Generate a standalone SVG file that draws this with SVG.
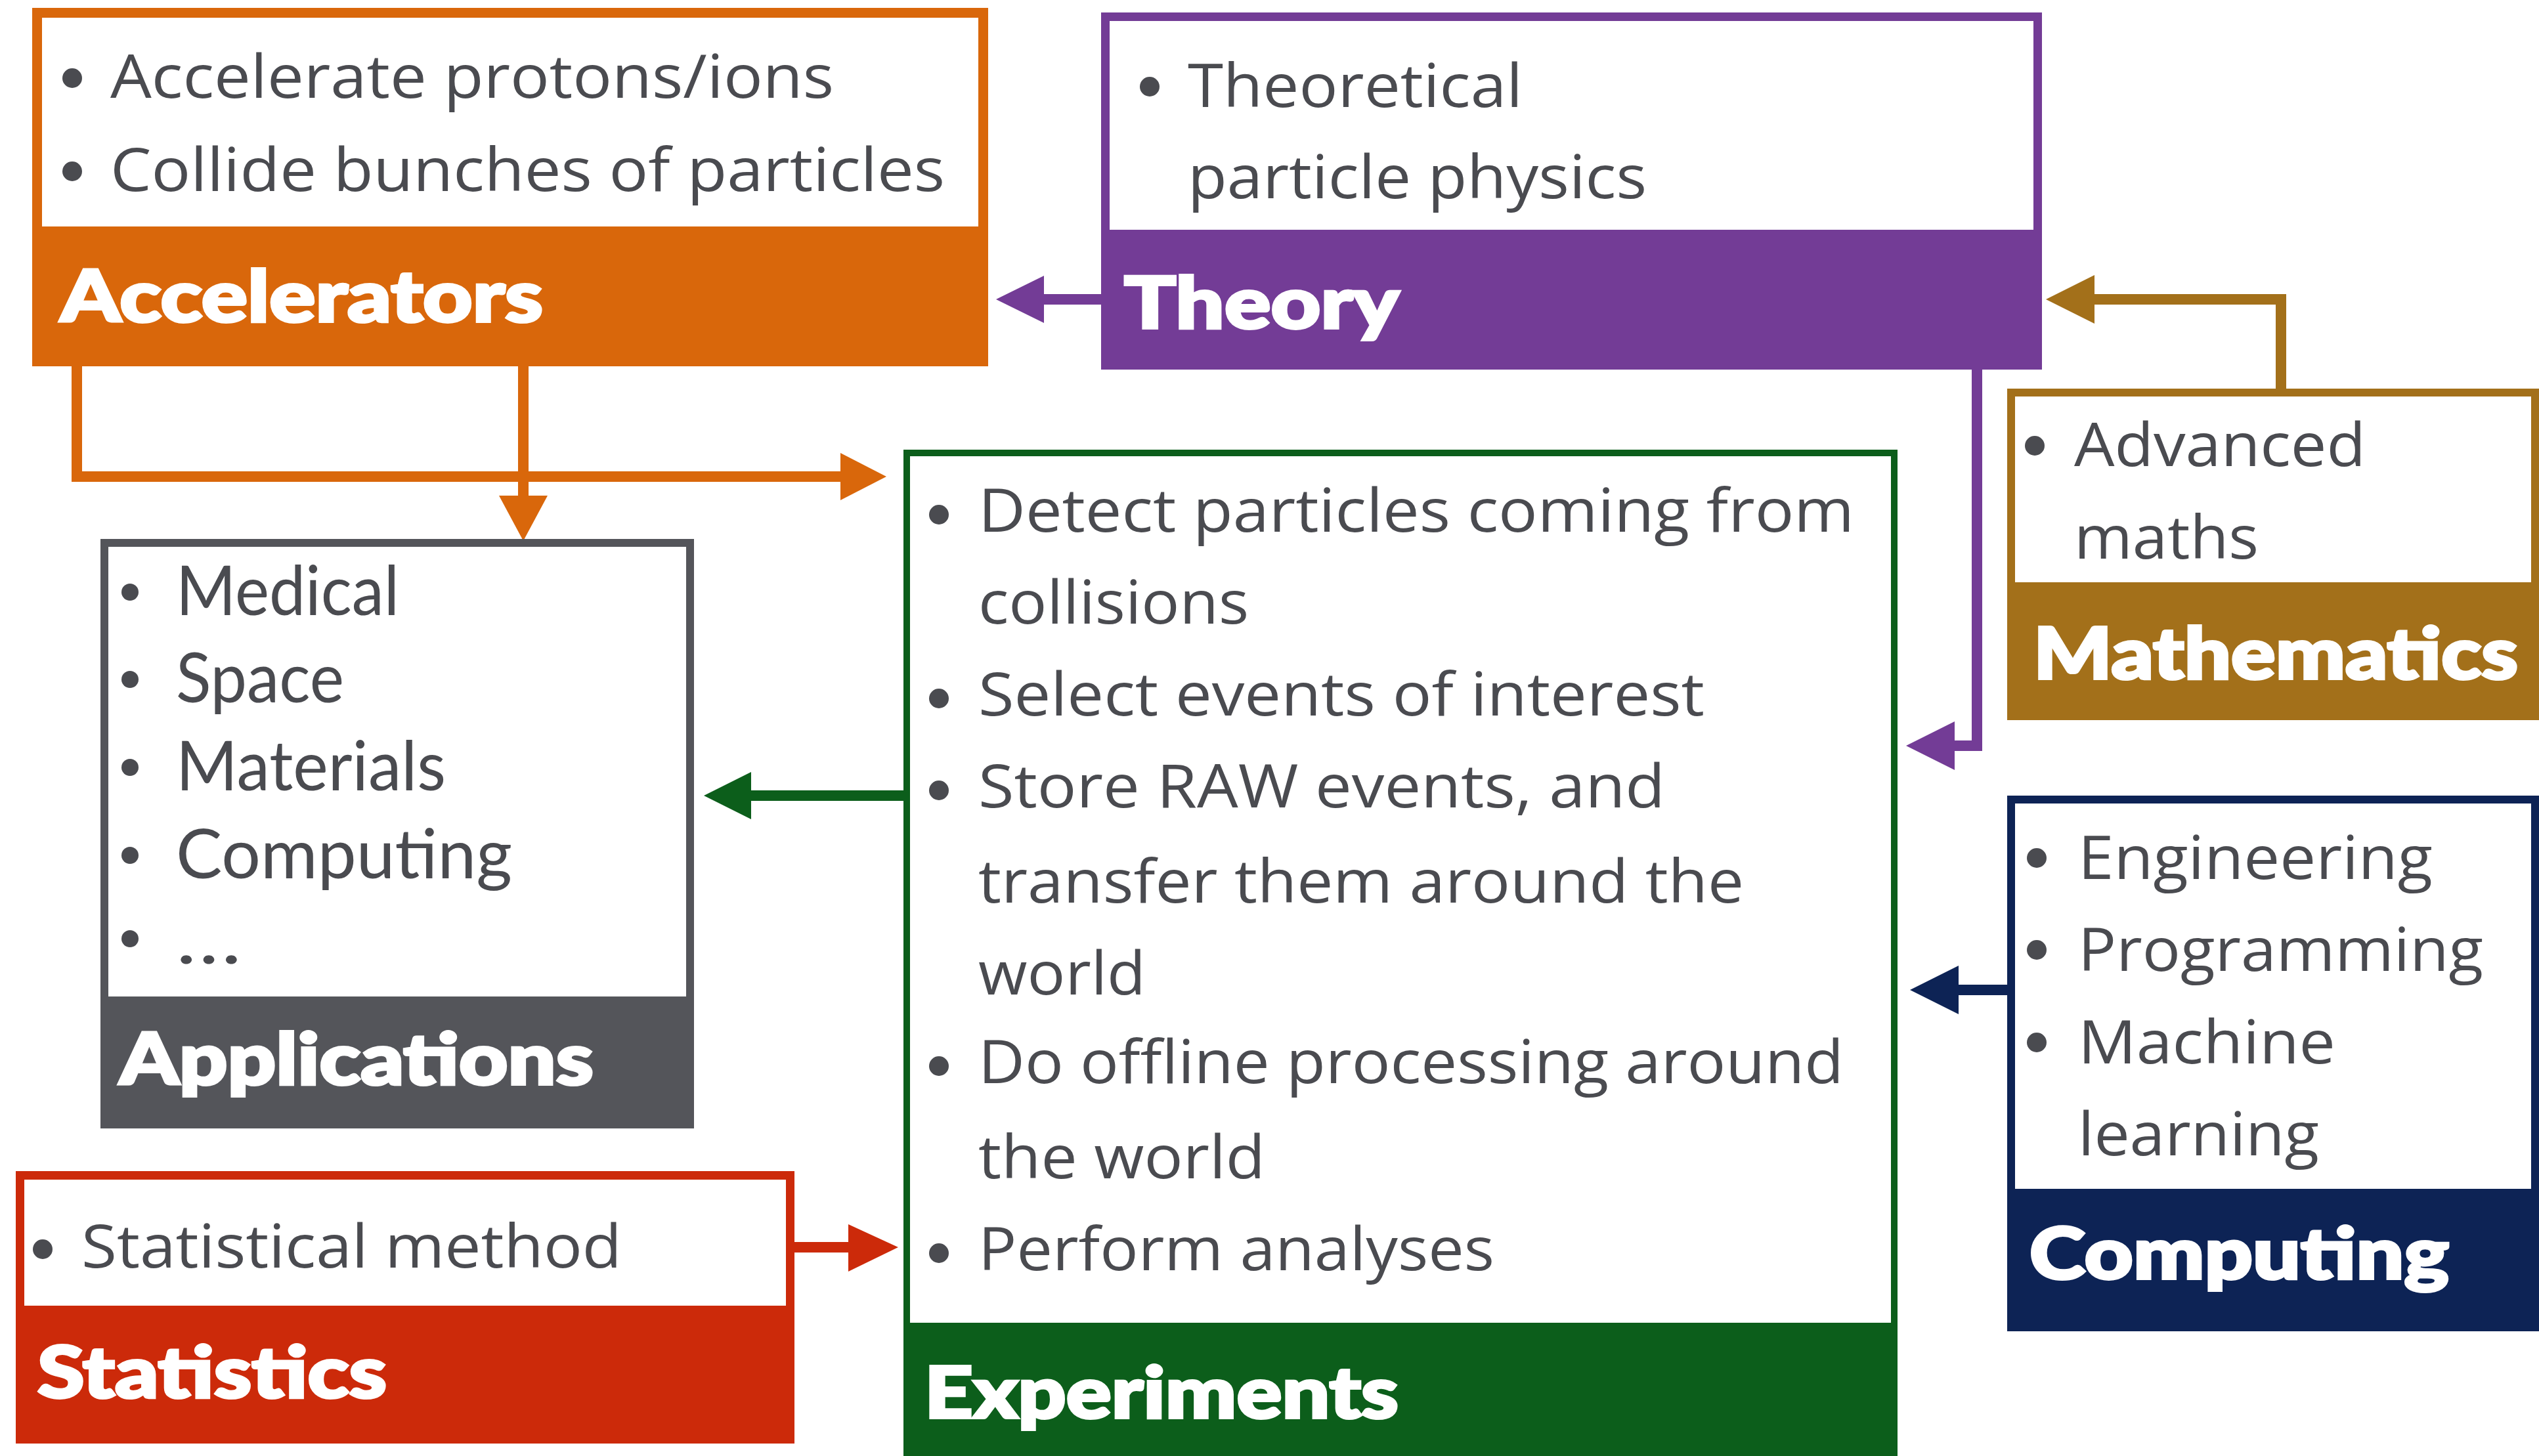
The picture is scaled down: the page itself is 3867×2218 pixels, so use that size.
<svg xmlns="http://www.w3.org/2000/svg" width="3867" height="2218" viewBox="0 0 3867 2218">
<style>
.body{font-family:"Open Sans","Noto Sans","Liberation Sans",sans-serif;font-size:92px;fill:#4a4b50}
.app{font-family:"Lato","Open Sans","Liberation Sans",sans-serif;font-size:104px;fill:#4a4b50}
.title{font-family:"Lato","Open Sans","Liberation Sans",sans-serif;font-weight:900;font-size:108px;fill:#ffffff;stroke:#ffffff;stroke-width:4px}
.bul{fill:#4a4b50}
.inner{fill:#ffffff}
.conn{fill:none;stroke-width:16}
</style>
<rect width="3867" height="2218" fill="#ffffff"/>
<g id="connectors">
  <path class="conn" stroke="#d9670b" d="M117 555 V726 H1282"/>
  <polygon fill="#d9670b" points="1280,690 1350,726 1280,762"/>
  <path class="conn" stroke="#d9670b" d="M797 555 V757"/>
  <polygon fill="#d9670b" points="760,755 797,824 834,755"/>
  <path class="conn" stroke="#733c96" d="M1677 456 H1585"/>
  <polygon fill="#733c96" points="1590,420 1517,456 1590,492"/>
  <path class="conn" stroke="#a3701a" d="M3474 592 V456 H3185"/>
  <polygon fill="#a3701a" points="3190,419 3116,456 3190,493"/>
  <path class="conn" stroke="#733c96" d="M3011 563 V1136 H2975"/>
  <polygon fill="#733c96" points="2977,1099 2903,1136 2977,1173"/>
  <path class="conn" stroke="#0c5e1b" d="M1376 1212 H1140"/>
  <polygon fill="#0c5e1b" points="1144,1176 1072,1212 1144,1248"/>
  <path class="conn" stroke="#0d2355" d="M3057 1508 H2980"/>
  <polygon fill="#0d2355" points="2983,1471 2909,1508 2983,1545"/>
  <path class="conn" stroke="#cc2a0a" d="M1210 1900 H1295"/>
  <polygon fill="#cc2a0a" points="1292,1865 1368,1900 1292,1937"/>
</g>
<g id="accelerators">
  <rect x="49" y="12" width="1456" height="546" fill="#d9670b"/>
  <rect class="inner" x="64" y="27" width="1426" height="318"/>
  <circle class="bul" cx="110" cy="119" r="15"/>
  <text class="body" x="168" y="149" textLength="1102" lengthAdjust="spacingAndGlyphs">Accelerate protons/ions</text>
  <circle class="bul" cx="110" cy="261" r="15"/>
  <text class="body" x="168" y="291" textLength="1271" lengthAdjust="spacingAndGlyphs">Collide bunches of particles</text>
  <text class="title" x="92" y="490" textLength="735" lengthAdjust="spacingAndGlyphs">Accelerators</text>
</g>
<g id="theory">
  <rect x="1677" y="19" width="1433" height="544" fill="#733c96"/>
  <rect class="inner" x="1690" y="32" width="1407" height="318"/>
  <circle class="bul" cx="1751" cy="132" r="15"/>
  <text class="body" x="1809" y="163" textLength="510" lengthAdjust="spacingAndGlyphs">Theoretical</text>
  <text class="body" x="1809" y="302" textLength="699" lengthAdjust="spacingAndGlyphs">particle physics</text>
  <text class="title" x="1712" y="500" textLength="419" lengthAdjust="spacingAndGlyphs">Theory</text>
</g>
<g id="mathematics">
  <rect x="3057" y="592" width="810" height="505" fill="#a3701a"/>
  <rect class="inner" x="3069" y="604" width="786" height="283"/>
  <circle class="bul" cx="3099" cy="679" r="15"/>
  <text class="body" x="3159" y="710" textLength="444" lengthAdjust="spacingAndGlyphs">Advanced</text>
  <text class="body" x="3159" y="851" textLength="281" lengthAdjust="spacingAndGlyphs">maths</text>
  <text class="title" x="3097" y="1034" textLength="738" lengthAdjust="spacingAndGlyphs">Mathematics</text>
</g>
<g id="applications">
  <rect x="153" y="821" width="904" height="898" fill="#54555a"/>
  <rect class="inner" x="165" y="833" width="880" height="685"/>
  <circle class="bul" cx="198" cy="902" r="13"/>
  <text class="app" x="268" y="937" textLength="340" lengthAdjust="spacingAndGlyphs">Medical</text>
  <circle class="bul" cx="198" cy="1035" r="13"/>
  <text class="app" x="268" y="1070" textLength="256" lengthAdjust="spacingAndGlyphs">Space</text>
  <circle class="bul" cx="198" cy="1169" r="13"/>
  <text class="app" x="268" y="1204" textLength="411" lengthAdjust="spacingAndGlyphs">Materials</text>
  <circle class="bul" cx="198" cy="1303" r="13"/>
  <text class="app" x="268" y="1338" textLength="512" lengthAdjust="spacingAndGlyphs">Computing</text>
  <circle class="bul" cx="198" cy="1430" r="13"/>
  <text class="app" x="268" y="1468" textLength="100" lengthAdjust="spacingAndGlyphs">…</text>
  <text class="title" x="182" y="1652" textLength="722" lengthAdjust="spacingAndGlyphs">Applications</text>
</g>
<g id="experiments">
  <rect x="1376" y="685" width="1514" height="1545" fill="#0c5e1b"/>
  <rect class="inner" x="1386" y="695" width="1494" height="1320"/>
  <circle class="bul" cx="1430" cy="784" r="15"/>
  <text class="body" x="1490" y="810" textLength="1334" lengthAdjust="spacingAndGlyphs">Detect particles coming from</text>
  <text class="body" x="1490" y="950" textLength="412" lengthAdjust="spacingAndGlyphs">collisions</text>
  <circle class="bul" cx="1430" cy="1064" r="15"/>
  <text class="body" x="1490" y="1090" textLength="1106" lengthAdjust="spacingAndGlyphs">Select events of interest</text>
  <circle class="bul" cx="1430" cy="1204" r="15"/>
  <text class="body" x="1490" y="1230" textLength="1046" lengthAdjust="spacingAndGlyphs">Store RAW events, and</text>
  <text class="body" x="1490" y="1375" textLength="1166" lengthAdjust="spacingAndGlyphs">transfer them around the</text>
  <text class="body" x="1490" y="1515" textLength="255" lengthAdjust="spacingAndGlyphs">world</text>
  <circle class="bul" cx="1430" cy="1624" r="15"/>
  <text class="body" x="1490" y="1650" textLength="1318" lengthAdjust="spacingAndGlyphs">Do offline processing around</text>
  <text class="body" x="1490" y="1795" textLength="437" lengthAdjust="spacingAndGlyphs">the world</text>
  <circle class="bul" cx="1430" cy="1909" r="15"/>
  <text class="body" x="1490" y="1935" textLength="786" lengthAdjust="spacingAndGlyphs">Perform analyses</text>
  <text class="title" x="1408" y="2160" textLength="722" lengthAdjust="spacingAndGlyphs">Experiments</text>
</g>
<g id="statistics">
  <rect x="24" y="1784" width="1186" height="415" fill="#cc2a0a"/>
  <rect class="inner" x="37" y="1797" width="1160" height="192"/>
  <circle class="bul" cx="65" cy="1903" r="15"/>
  <text class="body" x="124" y="1931" textLength="823" lengthAdjust="spacingAndGlyphs">Statistical method</text>
  <text class="title" x="57" y="2129" textLength="532" lengthAdjust="spacingAndGlyphs">Statistics</text>
</g>
<g id="computing">
  <rect x="3057" y="1212" width="810" height="816" fill="#0d2355"/>
  <rect class="inner" x="3069" y="1224" width="786" height="587"/>
  <circle class="bul" cx="3102" cy="1307" r="15"/>
  <text class="body" x="3165" y="1339" textLength="540" lengthAdjust="spacingAndGlyphs">Engineering</text>
  <circle class="bul" cx="3102" cy="1447" r="15"/>
  <text class="body" x="3165" y="1479" textLength="617" lengthAdjust="spacingAndGlyphs">Programming</text>
  <circle class="bul" cx="3102" cy="1588" r="15"/>
  <text class="body" x="3165" y="1620" textLength="392" lengthAdjust="spacingAndGlyphs">Machine</text>
  <text class="body" x="3165" y="1760" textLength="367" lengthAdjust="spacingAndGlyphs">learning</text>
  <text class="title" x="3091" y="1948" textLength="639" lengthAdjust="spacingAndGlyphs">Computing</text>
</g>
</svg>
